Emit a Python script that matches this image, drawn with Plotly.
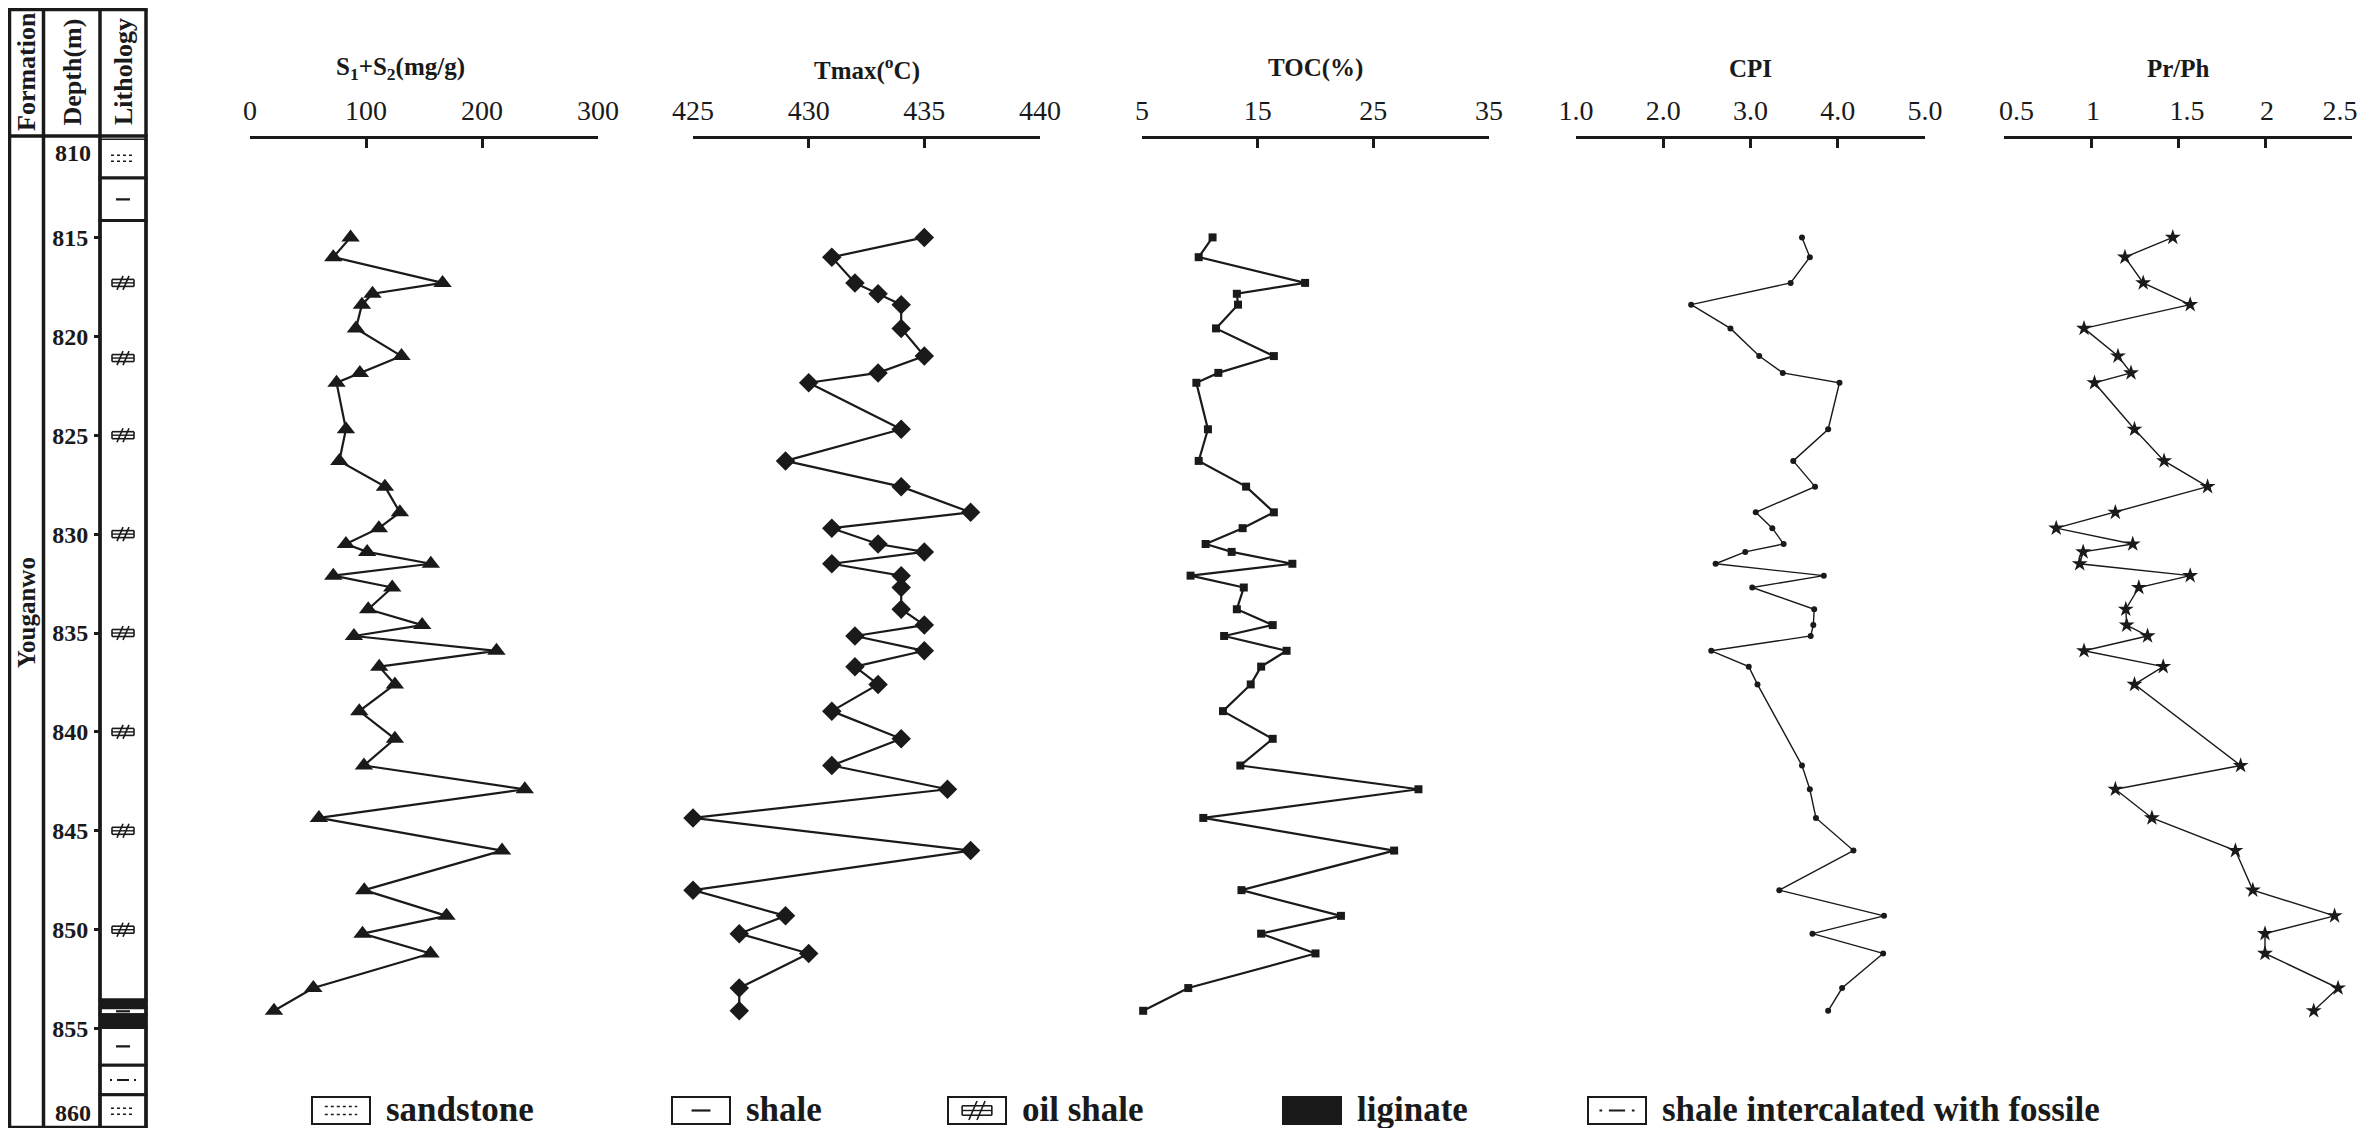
import plotly.graph_objects as go

W, H = 2367, 1136
PAGE_PAD = 8  # default body margin of the html page
FW, FH = W - 2 * PAGE_PAD, H - 2 * PAGE_PAD

# sample depths (m), shared by all five curves
depth_m = [815.0, 816.0, 817.3, 817.85, 818.4, 819.6, 821.0, 821.85, 822.35, 824.7,
           826.3, 827.6, 828.9, 829.7, 830.5, 830.9, 831.5, 832.1, 832.7, 833.8,
           834.6, 835.15, 835.9, 836.7, 837.6, 838.95, 840.35, 841.7, 842.9, 844.35,
           846.0, 848.0, 849.3, 850.2, 851.2, 852.95, 854.1]

s1s2 = [86.7, 71.8, 166.0, 105.6, 96.5, 91.3, 130.6, 94.7, 74.6, 82.7,
        77.0, 116.3, 129.2, 111.1, 82.7, 101.0, 155.9, 71.8, 122.6, 101.9,
        148.4, 89.6, 212.5, 111.4, 124.9, 94.2, 124.9, 98.2, 236.9, 59.4,
        217.3, 98.5, 169.4, 97.0, 155.6, 54.6, 20.7]

tmax = [435, 431, 432, 433, 434, 434, 435, 433, 430, 434,
        429, 434, 437, 431, 433, 435, 431, 434, 434, 434,
        435, 432, 435, 432, 433, 431, 434, 431, 436, 425,
        437, 425, 429, 427, 430, 427, 427]

toc = [11.1, 9.9, 19.1, 13.2, 13.3, 11.4, 16.4, 11.6, 9.7, 10.7,
       9.9, 14.0, 16.4, 13.7, 10.5, 12.75, 18.0, 9.2, 13.8, 13.2,
       16.3, 12.1, 17.5, 15.3, 14.4, 12.0, 16.3, 13.5, 28.9, 10.3,
       26.8, 13.6, 22.2, 15.3, 20.0, 9.0, 5.1]

cpi = [3.59, 3.68, 3.46, None, 2.32, 2.77, 3.10, 3.37, 4.02, 3.89,
       3.49, 3.74, 3.06, 3.25, 3.38, 2.94, 2.60, 3.84, 3.02, 3.73,
       3.72, 3.69, 2.55, 2.98, 3.08, None, None, 3.59, 3.68, 3.75,
       4.18, 3.33, 4.53, 3.71, 4.52, 4.05, 3.89]

pr_ph = [1.47, 1.195, 1.30, None, 1.57, 0.96, 1.155, 1.23, 1.02, 1.25,
         1.42, 1.67, 1.14, 0.80, 1.24, 0.955, 0.935, 1.57, 1.275, 1.20,
         1.205, 1.325, 0.96, 1.415, 1.25, None, None, 1.86, 1.14, 1.35,
         1.83, 1.93, 2.40, 2.00, 2.00, 2.42, 2.28]

# lithology column
lith_top = [810.0, 812.0, 814.15, 853.55, 853.95, 854.3, 854.95, 856.85, 858.35]
lith_bottom = [812.0, 814.15, 853.55, 853.95, 854.3, 854.95, 856.85, 858.35, 860.0]
lith_type = ["sandstone", "shale", "oil shale", "liginate", "shale", "liginate",
             "shale", "fossile", "sandstone"]
oil_shale_marks = [817.3, 821.1, 825.0, 830.0, 835.0, 840.0, 845.0, 850.0]

depth_ticks = [815, 820, 825, 830, 835, 840, 845, 850, 855]
depth_end_labels = ["810", "860"]

legend_types = ["sandstone", "shale", "oil shale", "liginate", "fossile"]
legend_labels = ["sandstone", "shale", "oil shale", "liginate",
                 "shale intercalated with fossile"]

SERIF = "Liberation Serif, Times New Roman, serif"
INK = "#1a1a1a"
NB = "\u00a0"


def px_x(x):
    # screen pixel -> paper fraction
    return (x - PAGE_PAD) / FW


def px_y(y):
    return 1 - (y - PAGE_PAD) / FH


DEPTH_TOP_PX, DEPTH_BOT_PX = 138.5, 1127.5
y_domain = [max(0.0, px_y(DEPTH_BOT_PX)), px_y(DEPTH_TOP_PX)]
M_PER_PX = 50.0 / (DEPTH_BOT_PX - DEPTH_TOP_PX)

panels = [
    dict(title="S<sub>1</sub>+S<sub>2</sub>(mg/g)", vals=s1s2, px=(250, 598), rng=[0, 300],
         tickvals=[0, 100, 200, 300], ticktext=["0", "100", "200", "300"],
         symbol="triangle-up", size=16, lw=2.2, tx=400, shift=0),
    dict(title="Tmax(<sup>o</sup>C)", vals=tmax, px=(693, 1040), rng=[425, 440],
         tickvals=[425, 430, 435, 440], ticktext=["425", "430", "435", "440"],
         symbol="diamond", size=15, lw=2.2, tx=None, shift=0),
    dict(title="TOC(%)", vals=toc, px=(1142, 1489), rng=[5, 35],
         tickvals=[5, 15, 25, 35], ticktext=["5", "15", "25", "35"],
         symbol="square", size=8, lw=2.2, tx=None, shift=0),
    dict(title="CPI", vals=cpi, px=(1576, 1925), rng=[1, 5],
         tickvals=[1, 2, 3, 4, 5], ticktext=["1.0", "2.0", "3.0", "4.0", "5.0"],
         symbol="circle", size=6, lw=1.4, tx=None, shift=0),
    # labels pulled left so "2.5" stays on the page, the rest padded back
    dict(title="Pr/Ph", vals=pr_ph, px=(2004, 2352), rng=[0.5, 2.5],
         tickvals=[0.5, 1, 1.5, 2, 2.5],
         ticktext=[NB * 7 + "0.5", NB * 4 + "1", NB * 6 + "1.5", NB * 4 + "2", "2.5"],
         symbol="star", size=12, lw=1.4, tx=None, shift=-12),
]

fig = go.Figure()
layout = {}
annotations = []
shapes = []

for i, p in enumerate(panels, start=1):
    sfx = "" if i == 1 else str(i)
    fig.add_trace(go.Scatter(
        x=p["vals"], y=depth_m, mode="lines+markers", connectgaps=True,
        line=dict(color=INK, width=p["lw"]),
        marker=dict(symbol=p["symbol"], size=p["size"], color=INK),
        xaxis="x" + sfx, yaxis="y" + sfx, showlegend=False, cliponaxis=False,
    ))
    layout["xaxis" + sfx] = dict(
        domain=[px_x(p["px"][0]), px_x(p["px"][1])], range=p["rng"], anchor="y" + sfx,
        side="top", showline=True, linewidth=3, linecolor=INK, mirror=False,
        ticks="inside", ticklen=9, tickwidth=3, tickcolor=INK,
        tickvals=p["tickvals"], ticktext=p["ticktext"], ticklabelstandoff=4,
        ticklabelshift=p["shift"], ticklabeloverflow="allow",
        tickfont=dict(family=SERIF, size=28, color=INK),
        showgrid=False, zeroline=False, automargin=False,
    )
    layout["yaxis" + sfx] = dict(
        domain=y_domain, range=[860, 810], anchor="x" + sfx, visible=False,
        showgrid=False, zeroline=False,
    )
    tx = p["tx"] if p["tx"] else (p["px"][0] + p["px"][1]) / 2
    annotations.append(dict(
        text=p["title"], x=px_x(tx), y=px_y(68), xref="paper", yref="paper",
        showarrow=False, xanchor="center", yanchor="middle",
        font=dict(family=SERIF, size=25, color=INK, weight="bold"),
    ))

# left strip: formation / depth / lithology (x6 in screen pixel units)
layout["xaxis6"] = dict(domain=[0, px_x(150)], range=[PAGE_PAD, 150], anchor="y6",
                        visible=False, showgrid=False, zeroline=False)
layout["yaxis6"] = dict(domain=y_domain, range=[860, 810], anchor="free",
                        position=px_x(100), side="left", showline=False,
                        ticks="outside", ticklen=6, tickwidth=2.5, tickcolor=INK,
                        tickvals=depth_ticks, ticktext=[str(d) for d in depth_ticks],
                        ticklabelstandoff=1, automargin=False,
                        tickfont=dict(family=SERIF, size=24, color=INK, weight="bold"),
                        showgrid=False, zeroline=False)


def seg(x0, y0, x1, y1, xref, yref, width=2.0, dash="solid"):
    shapes.append(dict(type="line", x0=x0, y0=y0, x1=x1, y1=y1, xref=xref, yref=yref,
                       line=dict(color=INK, width=width, dash=dash)))


def draw_symbol(kind, cx, cy, ux, uy, xref, yref, k=1.0):
    # offsets are in pixels, ux/uy convert pixels to axis units
    def s(a, b, c, d, width=2.0, dash="solid"):
        seg(cx + a * k * ux, cy + b * k * uy, cx + c * k * ux, cy + d * k * uy,
            xref, yref, width, dash)
    if kind == "sandstone":
        s(-12, -3, 12, -3, 1.6, "dot")
        s(-12, 3, 12, 3, 1.6, "dot")
    elif kind == "shale":
        s(-7, 0, 7, 0, 2.2)
    elif kind == "oil shale":
        s(-11, -3.5, 11, -3.5, 1.6)
        s(-11, 3.5, 11, 3.5, 1.6)
        s(-11, -3.5, -11, 3.5, 1.6)
        s(11, -3.5, 11, 3.5, 1.6)
        s(-11, 0, 11, 0, 1.4)
        s(-6, 7, 0, -7, 1.6)
        s(0, 7, 6, -7, 1.6)
    elif kind == "fossile":
        s(-6, 0, 6, 0, 2.0)
        s(-13, 0, -11, 0, 2.0)
        s(11, 0, 13, 0, 2.0)


for top, bot, kind in zip(lith_top, lith_bottom, lith_type):
    fill = INK if kind == "liginate" else "white"
    shapes.append(dict(type="rect", x0=100, x1=146, y0=top, y1=bot, xref="x6", yref="y6",
                       fillcolor=fill, line=dict(color=INK, width=3)))
    if kind in ("sandstone", "shale", "fossile"):
        draw_symbol(kind, 123, (top + bot) / 2, 1, M_PER_PX, "x6", "y6")

for d in oil_shale_marks:
    draw_symbol("oil shale", 123, d, 1, M_PER_PX, "x6", "y6")

# frame of the left strip
for xv in (9.5, 43.5, 100, 146):
    seg(xv, px_y(9.5), xv, px_y(1127.5), "x6", "paper", 3.5)
for yv in (9.5, 136, 1127.5):
    seg(8, px_y(yv), 147.7, px_y(yv), "x6", "paper", 3.5)

for txt, xv in (("Formation", 26), ("Depth(m)", 71.5), ("Lithology", 123)):
    annotations.append(dict(text=txt, x=xv, y=px_y(72), xref="x6", yref="paper",
                            textangle=-90, showarrow=False,
                            xanchor="center", yanchor="middle",
                            font=dict(family=SERIF, size=26, color=INK, weight="bold")))

annotations.append(dict(text="Youganwo", x=26, y=834.0, xref="x6", yref="y6",
                        textangle=-90, showarrow=False, xanchor="center", yanchor="middle",
                        font=dict(family=SERIF, size=25, color=INK, weight="bold")))

for txt, dv in zip(depth_end_labels, (810.75, 859.25)):
    annotations.append(dict(text=txt, x=93, y=dv, xref="x6", yref="y6", showarrow=False,
                            xanchor="right", yanchor="middle",
                            font=dict(family=SERIF, size=24, color=INK, weight="bold")))

# legend along the bottom
legend_left_px = [312, 672, 948, 1283, 1588]
box_w, box_top, box_bot = 58, 1097, 1124
for kind, label, lx in zip(legend_types, legend_labels, legend_left_px):
    fill = INK if kind == "liginate" else "white"
    shapes.append(dict(type="rect", xref="paper", yref="paper",
                       x0=px_x(lx), x1=px_x(lx + box_w), y0=px_y(box_bot), y1=px_y(box_top),
                       fillcolor=fill, line=dict(color=INK, width=2)))
    if kind != "liginate":
        draw_symbol(kind, px_x(lx + box_w / 2), px_y((box_top + box_bot) / 2),
                    1 / FW, -1 / FH, "paper", "paper", k=1.35)
    annotations.append(dict(text=label, x=px_x(lx + box_w + 14), y=px_y(1109),
                            xref="paper", yref="paper", showarrow=False,
                            xanchor="left", yanchor="middle",
                            font=dict(family=SERIF, size=35, color=INK, weight="bold")))

fig.update_layout(
    width=FW, height=FH, margin=dict(l=0, r=0, t=0, b=0, autoexpand=False),
    paper_bgcolor="white", plot_bgcolor="rgba(0,0,0,0)",
    showlegend=False, annotations=annotations, shapes=shapes, **layout,
)

fig.write_html("out.html")
